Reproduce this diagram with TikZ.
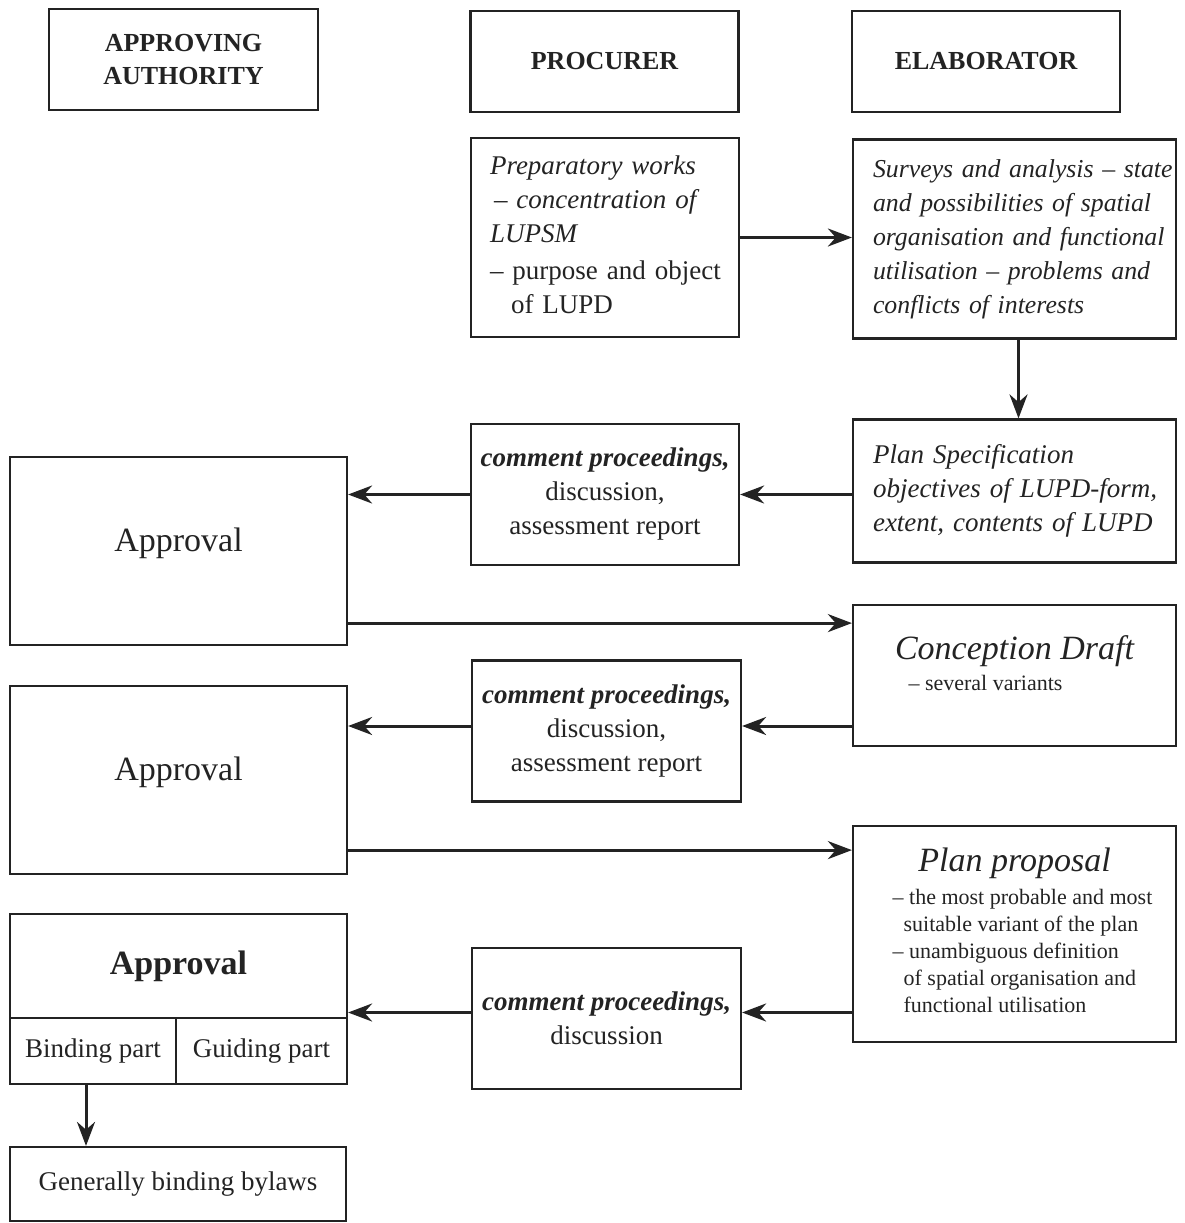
\documentclass[tikz,border=0pt]{standalone}
\usepackage{fontspec}
\setmainfont{Liberation Serif}
\usetikzlibrary{arrows.meta}
\definecolor{ink}{RGB}{35,35,35}
\newcommand\headsize{\fontsize{26}{33}\selectfont}
\newcommand\bodysize{\fontsize{27}{34}\selectfont}
\newcommand\bigsize{\fontsize{34}{40}\selectfont}
\newcommand\smallsize{\fontsize{22}{27}\selectfont}
\newcommand\partsize{\fontsize{27}{31}\selectfont}
\newcommand\textlines[1]{\begin{tabular}{@{}l@{}}#1\end{tabular}}
\tikzset{
  box/.style={
    draw=ink,
    line width=2.2pt,
    text=ink,
    inner sep=0pt,
    font=\bodysize
  },
  head/.style={box, minimum width=268pt, minimum height=101pt, align=center, font=\headsize\bfseries},
  task/.style={box, align=left},
  comm/.style={box, minimum width=268pt, minimum height=141pt, align=center},
  appr/.style={box, minimum width=337pt, align=center},
  arrow/.style={-{Stealth[length=24pt,width=18pt]}, line width=3pt, draw=ink},
}
\begin{document}
\begin{tikzpicture}[x=1pt,y=-1pt]
\useasboundingbox (0,0) rectangle (1184,1223);

% column heads
\node[head, minimum width=269pt] (auth) at (183.5,59.5) {APPROVING\\AUTHORITY};
\node[head] (proc) at (604.5,61.5) {PROCURER};
\node[head] (elab) at (986,61.5) {ELABORATOR};

\node[task, minimum width=268pt, minimum height=199pt, text width=230pt] (prep) at (605,237.5) {\textlines{
  \textit{Preparatory works}\\
  \hspace*{4pt}\textit{\textendash{} concentration of}\\
  \textit{LUPSM}\\[3pt]
  \textendash{} purpose and object\\
  \hspace*{21pt}of LUPD}
};

\node[task, minimum width=323pt, minimum height=199pt, text width=283pt, font=\fontsize{25.8}{34}\selectfont\itshape] (surv) at (1014.5,239) {\textlines{
  Surveys and analysis \textendash{} state\\
  and possibilities of spatial\\
  organisation and functional\\
  utilisation \textendash{} problems and\\
  conflicts of interests}
};

\node[task, minimum width=323pt, minimum height=143pt, text width=283pt, font=\bodysize\itshape] (spec) at (1014.5,491) {\textlines{
  Plan Specification\\
  objectives of LUPD-form,\\
  extent, contents of LUPD}
};

\node[comm] (com1) at (605,494.5) {
  \textbf{\textit{comment proceedings,}}\\
  discussion,\\
  assessment report
};

\node[appr, minimum height=188pt, text depth=22pt, font=\bigsize] (apr1) at (178.5,551) {Approval};

\node[box, minimum width=323pt, minimum height=141pt, align=center, text depth=25pt] (draft) at (1014.5,675.5) {
  {\bigsize\itshape Conception Draft}\\[-3pt]
  {\smallsize\textendash{} several variants}\hspace*{58pt}
};

\node[comm, minimum width=269pt] (com2) at (606.5,731) {
  \textbf{\textit{comment proceedings,}}\\
  discussion,\\
  assessment report
};

\node[appr, minimum height=188pt, text depth=22pt, font=\bigsize] (apr2) at (178.5,780) {Approval};

\node[box, minimum width=323pt, minimum height=216pt, align=center] (prop) at (1014.5,934) {
  {\bigsize\itshape Plan proposal}\\[6pt]
  \hspace*{16pt}{\smallsize\begin{tabular}{@{}l@{}}
    \textendash{} the most probable and most\\
    \hspace*{11pt}suitable variant of the plan\\
    \textendash{} unambiguous definition\\
    \hspace*{11pt}of spatial organisation and\\
    \hspace*{11pt}functional utilisation
  \end{tabular}}
};

\node[comm, minimum width=269pt] (com3) at (606.5,1018.5) {
  \textbf{\textit{comment proceedings,}}\\
  discussion
};

\node[appr, minimum height=104pt, font=\bigsize\bfseries] (apr3) at (178.5,966) {Approval};
\node[box, minimum width=166pt, minimum height=66pt, font=\partsize] (bind) at (93,1051) {Binding part};
\node[box, minimum width=171pt, minimum height=66pt, font=\partsize] (guide) at (261.5,1051) {Guiding part};

\node[box, minimum width=336pt, minimum height=74pt, font=\partsize] (bylaw) at (178,1184) {Generally binding bylaws};

\draw[arrow] (prep.east) -- (prep.east -| surv.west);
\draw[arrow] ([xshift=4pt]surv.south) -- ([xshift=4pt]spec.north);
\draw[arrow] (spec.west |- com1.east) -- (com1.east);
\draw[arrow] (com1.west) -- (com1.west -| apr1.east);
\draw[arrow] ([yshift=23pt]apr1.south east) -- ([yshift=23pt]apr1.south east -| draft.west);
\draw[arrow] ([yshift=5pt]com2.east -| draft.west) -- ([yshift=5pt]com2.east);
\draw[arrow] ([yshift=5pt]com2.west) -- ([yshift=5pt]com2.west -| apr2.east);
\draw[arrow] ([yshift=25pt]apr2.south east) -- ([yshift=25pt]apr2.south east -| prop.west);
\draw[arrow] ([yshift=6pt]com3.east -| prop.west) -- ([yshift=6pt]com3.east);
\draw[arrow] ([yshift=6pt]com3.west) -- ([yshift=6pt]com3.west -| apr3.east);
\draw[arrow] ([xshift=-7pt]bind.south) -- ([xshift=-7pt]bind.south |- bylaw.north);

\end{tikzpicture}
\end{document}
